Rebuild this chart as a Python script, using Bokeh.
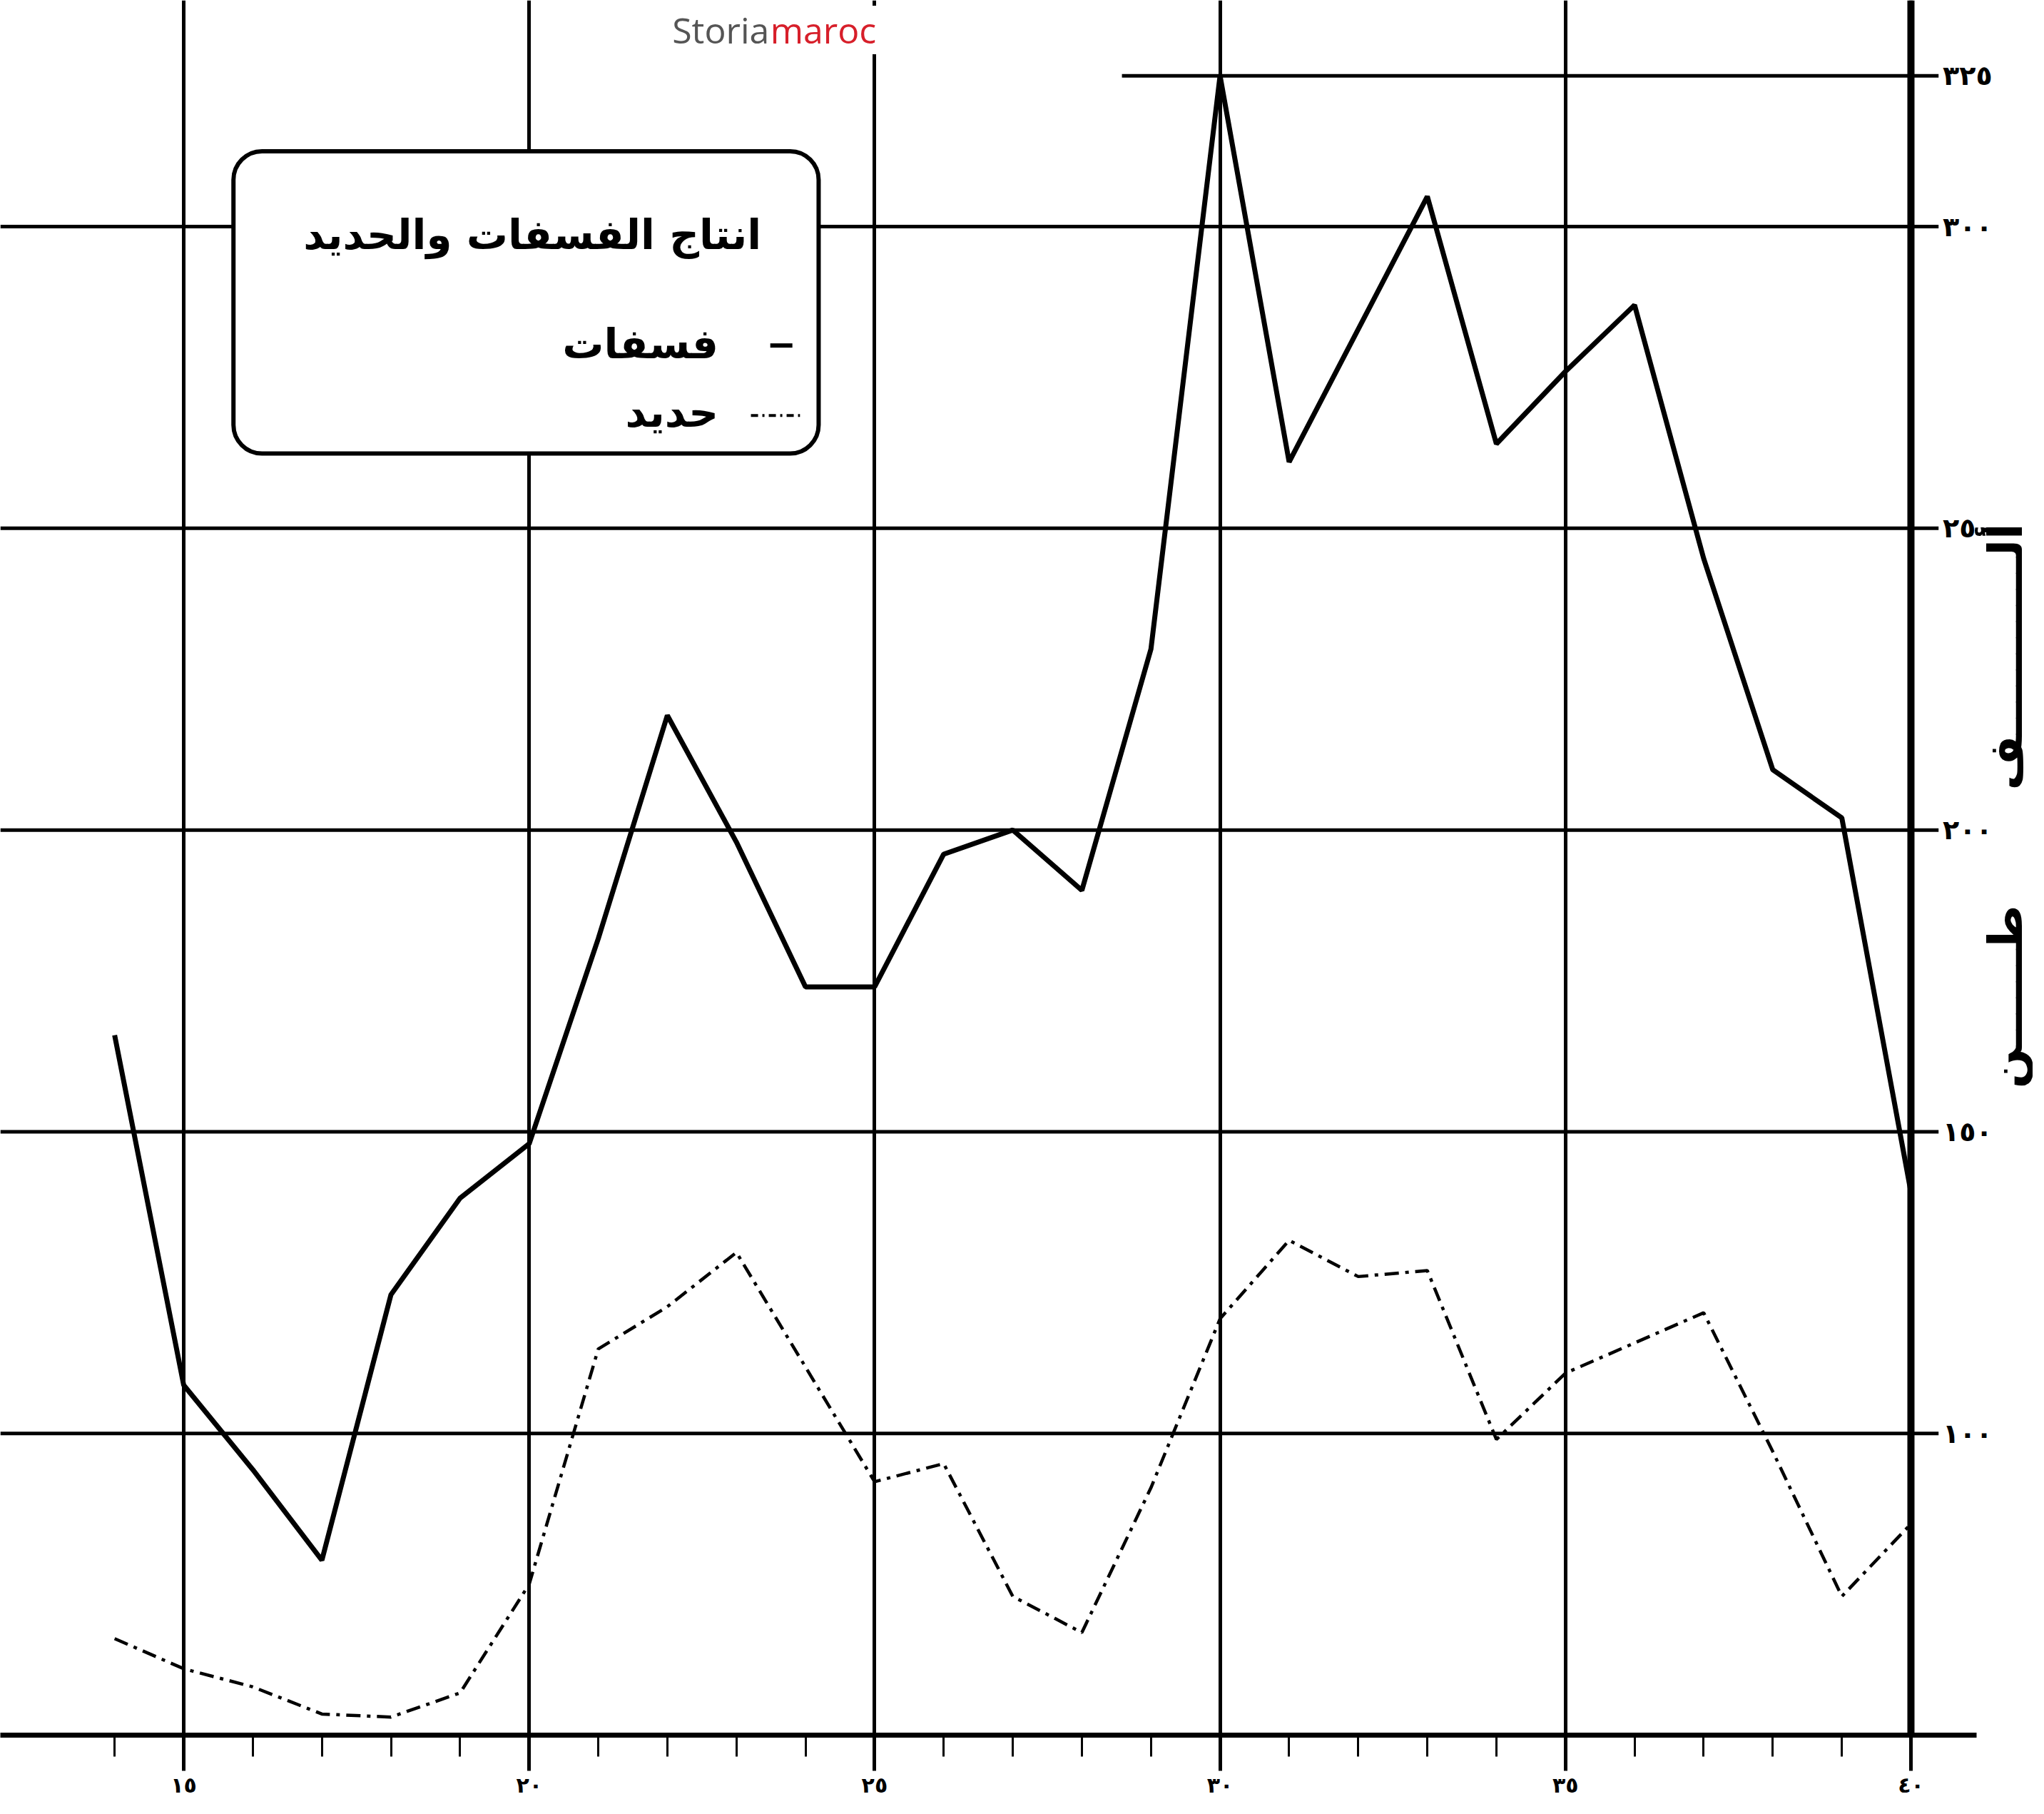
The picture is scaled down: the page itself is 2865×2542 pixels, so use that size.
import math
from bokeh.plotting import figure
from bokeh.models import Range1d, FixedTicker, BoxAnnotation, Label, Arrow, Span
from bokeh.core.properties import value
from bokeh.embed import file_html
from bokeh.resources import INLINE

# ---------------- data ----------------
years = [14, 15, 16, 17, 18, 19, 20, 21, 22, 23, 24, 25, 26, 27,
         28, 29, 30, 31, 32, 33, 34, 35, 36, 37, 38, 39, 40]
phosphate = [166, 108, 94, 79, 123, 139, 148, 182, 219, 198, 174, 174, 196, 200,
             190, 230, 325, 261, 283, 305, 264, 276, 287, 245, 210, 202, 140]
iron = [66, 61, 58, 53.5, 53, 57, 75, 114, 121, 130, 111, 92, 95, 73,
        67, 91, 119, 132, 126, 127, 99, 110, 115, 120, 97, 73, 85]

major_years = [15, 20, 25, 30, 35, 40]
year_labels = ["١٥", "٢٠", "٢٥", "٣٠", "٣٥", "٤٠"]
minor_years = [14, 15, 16, 17, 18, 19, 20, 21, 22, 23, 24, 25, 26, 27,
               28, 29, 30, 31, 32, 33, 34, 35, 36, 37, 38, 39, 40]
value_ticks = [100, 150, 200, 250, 300, 325]
value_labels = ["١٠٠", "١٥٠", "٢٠٠", "٢٥٠", "٣٠٠", "٣٢٥"]

title_text = "انتاج الفسفات والحديد"
series_names = ["فسفات", "حديد"]
unit_text = "ألـــــــــــف" + "\u00a0" * 7 + "طــــــن"

FONT = "DejaVu Sans"

X0, X_AXIS, X1 = 12.346, 40, 41.766   # visible year range; value axis sits at 40
Y0, Y1 = 50, 337.5

# ---------------- figure ----------------
p = figure(width=2849, height=2526, output_backend="svg", toolbar_location=None,
           x_range=Range1d(X0, X1), y_range=Range1d(Y0, Y1),
           y_axis_location=None,
           min_border_left=0, min_border_top=0,
           min_border_right=0, min_border_bottom=95)
p.outline_line_color = None
p.background_fill_color = "white"
p.border_fill_color = "white"

# bottom axis
xa = p.xaxis[0]
xa.ticker = FixedTicker(ticks=major_years, minor_ticks=minor_years)
xa.major_label_overrides = dict(zip(major_years, year_labels))
xa.bounds = (X0, 40.95)
xa.axis_line_width = 7
xa.axis_line_color = "black"
xa.major_tick_in = 0
xa.major_tick_out = 50
xa.major_tick_line_width = 5
xa.minor_tick_in = 0
xa.minor_tick_out = 30
xa.minor_tick_line_width = 3
xa.major_label_standoff = 2
xa.major_label_text_font = FONT
xa.major_label_text_font_size = "30px"
xa.major_label_text_font_style = "bold"
xa.major_label_text_color = "black"

# vertical grid
p.xgrid[0].ticker = FixedTicker(ticks=major_years)
p.xgrid[0].grid_line_color = "black"
p.xgrid[0].grid_line_width = 5
p.ygrid.visible = False

# horizontal grid lines (running past the value axis as its tick marks)
grid_vals = value_ticks[:-1]
p.segment(x0=[X0] * len(grid_vals), y0=grid_vals,
          x1=[40.4] * len(grid_vals), y1=grid_vals,
          line_color="black", line_width=5)
# top (partial) reference line
p.segment(x0=[28.58], y0=[value_ticks[-1]], x1=[40.4], y1=[value_ticks[-1]],
          line_color="black", line_width=5)

# value axis line
p.add_layout(Span(location=X_AXIS, dimension="height", line_color="black",
                  line_width=10))

# value axis labels
p.text(x=[40.46] * len(value_ticks), y=value_ticks, text=value_labels,
       text_align="left", text_baseline="middle",
       text_font=value(FONT), text_font_size="38px", text_font_style="bold",
       text_color="black")

# unit label (reads top to bottom)
p.text(x=[41.37], y=[204], text=[unit_text], angle=math.pi / 2,
       text_align="center", text_baseline="middle",
       text_font=value(FONT), text_font_size="66px", text_font_style="bold",
       text_color="black")

# data lines
p.line(years, phosphate, line_color="black", line_width=7)
p.line(years, iron, line_color="black", line_width=4.5, line_dash="20 9 5 9")

# legend box
box = BoxAnnotation(left=15.72, right=24.19, top=312.5, bottom=262.4,
                    fill_color="white", fill_alpha=1.0,
                    line_color="black", line_alpha=1.0, line_width=6,
                    border_radius=40)
p.add_layout(box)

p.add_layout(Label(x=23.36, y=298.6, text=title_text, text_align="right",
                   text_baseline="middle", text_font=FONT,
                   text_font_size="58px", text_font_style="bold",
                   text_color="black"))
p.add_layout(Label(x=22.74, y=280.6, text=series_names[0], text_align="right",
                   text_baseline="middle", text_font=FONT,
                   text_font_size="58px", text_font_style="bold",
                   text_color="black"))
p.add_layout(Label(x=22.74, y=269.2, text=series_names[1], text_align="right",
                   text_baseline="middle", text_font=FONT,
                   text_font_size="58px", text_font_style="bold",
                   text_color="black"))
p.add_layout(Arrow(x_start=23.49, y_start=280.3, x_end=23.81, y_end=280.3,
                   start=None, end=None, line_color="black", line_width=6))
p.add_layout(Arrow(x_start=23.21, y_start=268.7, x_end=23.92, y_end=268.7,
                   start=None, end=None, line_color="black", line_width=4,
                   line_dash="10 6 3 6"))

# watermark
p.add_layout(Label(x=22.07, y=332.6, text="Storia", text_align="left",
                   text_baseline="middle", text_font="Open Sans",
                   text_font_size="50px", text_color="#555555",
                   background_fill_color="white"))
p.add_layout(Label(x=23.49, y=332.6, text="maroc", text_align="left",
                   text_baseline="middle", text_font="Open Sans",
                   text_font_size="50px", text_color="#d71f2a",
                   background_fill_color="white"))

open("out.html", "w").write(file_html(p, INLINE))
